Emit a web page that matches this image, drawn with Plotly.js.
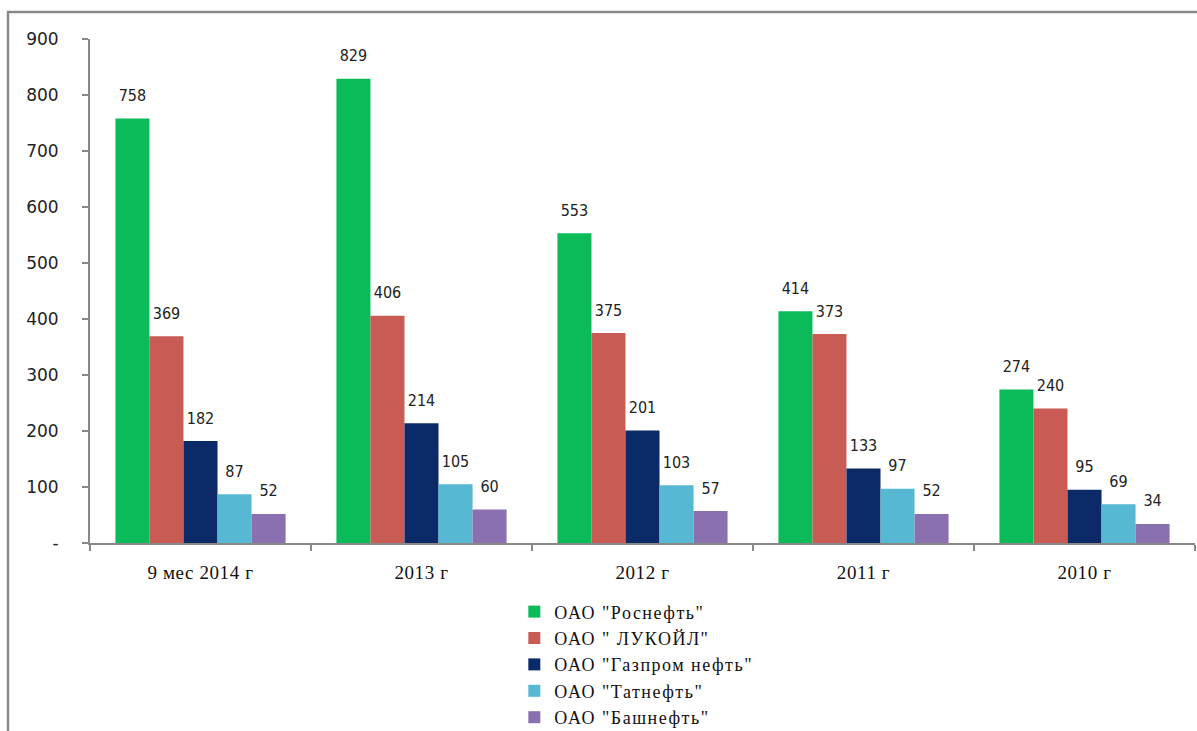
<!DOCTYPE html>
<html>
<head>
<meta charset="utf-8">
<script src="https://cdn.plot.ly/plotly-3.0.1.min.js"></script>
<style>
html,body{margin:0;padding:0;background:#fff;}
#chart{width:1197px;height:731px;}
#chart .legendtext{letter-spacing:1.5px;}
#chart .legend .scrollbox{clip-path:none !important;}
#chart .xtick text{letter-spacing:0.6px;}
</style>
</head>
<body>
<div id="chart"></div>
<script>
const categories = ['9 мес 2014 г', '2013 г', '2012 г', '2011 г', '2010 г'];
const seriesNames = ['ОАО "Роснефть"', 'ОАО " ЛУКОЙЛ"', 'ОАО "Газпром нефть"', 'ОАО "Татнефть"', 'ОАО "Башнефть"'];
const rosneft = [758, 829, 553, 414, 274];
const lukoil = [369, 406, 375, 373, 240];
const gazpromneft = [182, 214, 201, 133, 95];
const tatneft = [87, 105, 103, 97, 69];
const bashneft = [52, 60, 57, 52, 34];
const yTickVals = [0, 100, 200, 300, 400, 500, 600, 700, 800, 900];
const yTickText = ['-', '100', '200', '300', '400', '500', '600', '700', '800', '900'];

const colors = ['#0BBA58', '#C95B55', '#0C2A67', '#57B8D4', '#8A70AE'];
const values = [rosneft, lukoil, gazpromneft, tatneft, bashneft];

const barTraces = values.map((v, i) => ({
  type: 'bar',
  name: seriesNames[i],
  x: categories,
  y: v,
  marker: {color: colors[i], line: {width: 0}},
  hoverinfo: 'none'
}));

const labelTraces = values.map((v, i) => ({
  type: 'scatter',
  mode: 'markers+text',
  x: categories,
  y: v,
  text: v.map(String),
  textposition: 'top center',
  textfont: {family: 'DejaVu Sans Condensed, DejaVu Sans', size: 16, color: '#222'},
  marker: {size: 20, opacity: 0, color: colors[i]},
  cliponaxis: false,
  showlegend: false,
  hoverinfo: 'none'
}));

const layout = {
  width: 1197,
  height: 731,
  margin: {l: 90, r: 2, t: 39, b: 188, pad: 0, autoexpand: false},
  paper_bgcolor: '#fff',
  plot_bgcolor: '#fff',
  barmode: 'group',
  bargap: 0.23,
  bargroupgap: 0,
  scattermode: 'group',
  scattergap: 0.23,
  showlegend: true,
  legend: {
    orientation: 'v',
    x: 0.384, xanchor: 'left',
    y: -0.1, yanchor: 'top',
    font: {family: '"Liberation Serif", "Times New Roman", serif', size: 18, color: '#111'},
    bgcolor: 'rgba(0,0,0,0)',
    traceorder: 'normal'
  },
  xaxis: {
    type: 'category',
    showline: true, linecolor: '#888', linewidth: 2,
    ticks: 'outside', tickson: 'boundaries', ticklen: 6, tickcolor: '#888', tickwidth: 2,
    showgrid: false, zeroline: false,
    tickfont: {family: '"Liberation Serif", "Times New Roman", serif', size: 19, color: '#111'},
    ticklabelstandoff: 11
  },
  yaxis: {
    range: [0, 900],
    tickvals: yTickVals, ticktext: yTickText,
    showline: true, linecolor: '#888', linewidth: 2,
    ticks: 'outside', ticklen: 6, tickcolor: '#888', tickwidth: 2,
    showgrid: false, zeroline: false,
    tickfont: {family: 'DejaVu Sans, sans-serif', size: 17, color: '#222'},
    ticklabelstandoff: 20
  },
  shapes: [{
    type: 'rect', xref: 'paper', yref: 'paper',
    x0: -0.0742, x1: 1.01, y0: -0.40, y1: 1.0536,
    line: {color: '#8a8a8a', width: 2.5}, fillcolor: 'rgba(0,0,0,0)', layer: 'below'
  }]
};

Plotly.newPlot('chart', barTraces.concat(labelTraces), layout, {staticPlot: true, displayModeBar: false});
</script>
</body>
</html>
